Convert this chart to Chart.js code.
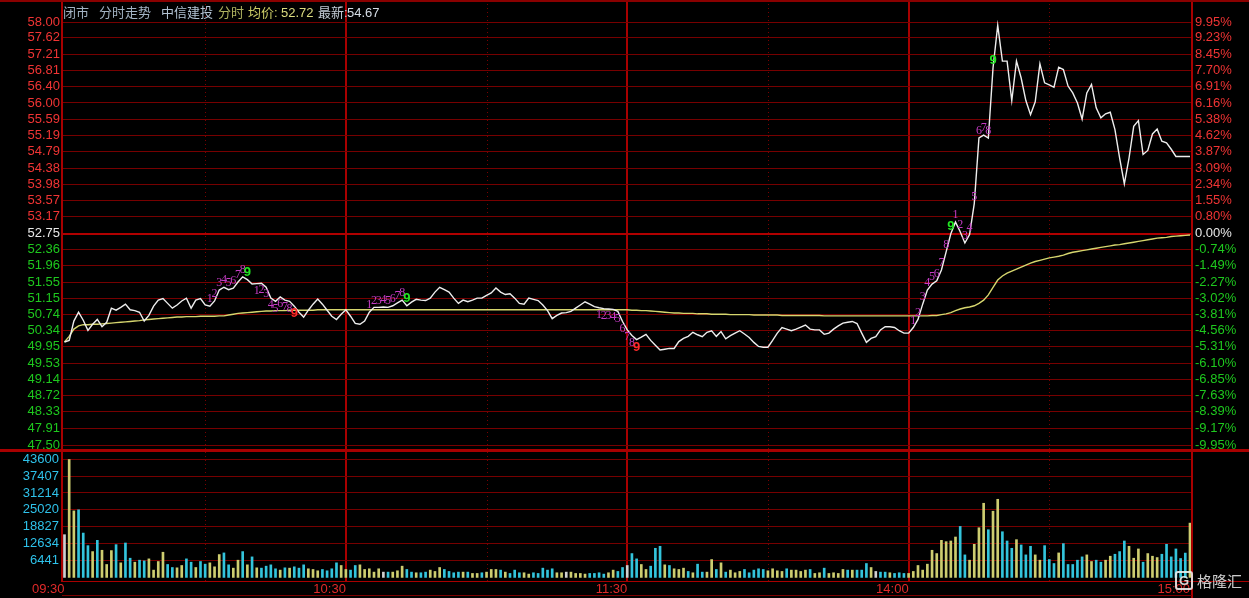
<!DOCTYPE html>
<html><head><meta charset="utf-8">
<script src="https://cdn.jsdelivr.net/npm/chart.js@4.4.1/dist/chart.umd.min.js"></script>
<style>
html,body{margin:0;padding:0;background:#000;width:1249px;height:598px;overflow:hidden;}
#wrap{position:relative;width:1249px;height:598px;background:#000;}
canvas{position:absolute;left:0;}
#cp{top:0;}
#cv{top:452px;}
.t{position:absolute;top:4px;font-size:13px;font-family:"Liberation Sans","Noto Sans CJK SC",sans-serif;line-height:17px;white-space:nowrap;}
#logoG{position:absolute;left:1175px;top:571px;width:14px;height:15px;border:2px solid rgba(235,235,235,0.9);border-radius:3px;color:rgba(235,235,235,0.9);font:bold 13px "Liberation Sans",sans-serif;line-height:15px;text-align:center;}
#logoT{position:absolute;left:1197px;top:570px;color:rgba(225,225,225,0.9);font:15px "Noto Sans CJK SC",sans-serif;line-height:22px;}
</style></head>
<body><div id="wrap">
<canvas id="cp" width="1249" height="452"></canvas>
<canvas id="cv" width="1249" height="146"></canvas>
<span class="t" style="left:63px;color:#a3b3c3">闭市</span>
<span class="t" style="left:99px;color:#a3b3c3">分时走势</span>
<span class="t" style="left:161px;color:#b3c3d3">中信建投</span>
<span class="t" style="left:218px;color:#b0b460">分时</span>
<span class="t" style="left:248px;color:#cccc66">均价:</span>
<span class="t" style="left:281px;color:#dcdc80">52.72</span>
<span class="t" style="left:318px;color:#c4ccd6">最新:</span>
<span class="t" style="left:347px;color:#d6dde6">54.67</span>
<div id="logoG">G</div>
<div id="logoT">格隆汇</div>
</div>
<script>
// ---------------- DATA ----------------
const prevClose = 52.75;
const timeTicks = [0, 60, 120, 180, 240];          // minute index
const timeLabels = ['09:30', '10:30', '11:30', '14:00', '15:00'];
const dottedMinutes = [30, 90, 150, 210];

const priceLabels = ['58.00','57.62','57.21','56.81','56.40','56.00','55.59','55.19','54.79','54.38','53.98','53.57','53.17','52.75','52.36','51.96','51.55','51.15','50.74','50.34','49.95','49.53','49.14','48.72','48.33','47.91','47.50'];
const pctLabels = ['9.95%','9.23%','8.45%','7.70%','6.91%','6.16%','5.38%','4.62%','3.87%','3.09%','2.34%','1.55%','0.80%','0.00%','-0.74%','-1.49%','-2.27%','-3.02%','-3.81%','-4.56%','-5.31%','-6.10%','-6.85%','-7.63%','-8.39%','-9.17%','-9.95%'];
const volLabels = ['43600','37407','31214','25020','18827','12634','6441'];

const price = [
50.06,50.10,50.58,50.80,50.60,50.35,50.50,50.62,50.44,50.55,
50.90,50.85,50.92,51.00,50.86,50.84,50.80,50.58,50.72,50.95,
51.10,51.14,51.02,50.90,50.98,51.08,51.15,50.90,51.10,51.14,
50.98,50.95,51.08,51.35,51.42,51.36,51.40,51.55,51.68,51.61,
51.50,51.51,51.52,51.42,51.15,51.07,51.18,51.10,51.07,50.95,
50.80,50.68,50.85,51.00,51.13,51.00,50.85,50.70,50.62,50.75,
50.86,50.70,50.52,50.50,50.58,50.80,50.92,50.92,50.93,50.92,
50.96,51.03,51.10,50.96,51.05,51.12,51.10,51.09,51.15,51.30,
51.42,51.36,51.30,51.15,51.02,51.10,51.06,51.10,51.15,51.15,
51.22,51.28,51.40,51.30,51.24,51.26,51.15,51.02,51.00,51.15,
51.12,51.09,50.98,50.84,50.64,50.72,50.78,50.79,50.82,50.90,
50.98,51.06,51.00,50.94,50.91,50.89,50.88,50.87,50.82,50.57,
50.36,50.22,50.12,50.18,50.25,50.10,49.98,49.86,49.88,49.90,
49.90,50.07,50.15,50.20,50.30,50.24,50.19,50.30,50.34,50.20,
50.32,50.14,50.22,50.28,50.34,50.26,50.17,50.05,49.95,49.93,
49.93,50.10,50.28,50.42,50.38,50.34,50.38,50.43,50.48,50.38,
50.36,50.36,50.25,50.28,50.38,50.46,50.53,50.55,50.57,50.52,
50.28,50.05,50.15,50.19,50.36,50.44,50.44,50.42,50.34,50.28,
50.28,50.42,50.62,51.00,51.35,51.50,51.58,51.85,52.30,52.75,
53.04,52.80,52.52,52.73,53.50,55.13,55.20,55.13,56.87,57.93,
57.04,57.04,56.06,57.04,56.62,56.06,55.71,56.03,56.97,56.50,
56.45,56.39,56.89,56.83,56.42,56.25,56.00,55.60,56.25,56.46,
55.88,55.63,55.73,55.77,55.34,54.63,53.99,54.63,55.42,55.56,
54.72,54.82,55.23,55.35,55.05,55.01,54.85,54.67,54.67,54.67,
54.67];

const avgPrice = [
50.06,50.20,50.38,50.46,50.49,50.49,50.50,50.50,50.51,50.52,
50.53,50.54,50.55,50.56,50.57,50.58,50.59,50.61,50.62,50.63,
50.64,50.65,50.66,50.67,50.68,50.68,50.69,50.69,50.69,50.70,
50.70,50.70,50.70,50.71,50.71,50.73,50.75,50.77,50.78,50.79,
50.80,50.81,50.82,50.83,50.83,50.84,50.84,50.84,50.85,50.85,
50.85,50.85,50.85,50.85,50.86,50.86,50.86,50.86,50.86,50.86,
50.86,50.86,50.86,50.86,50.86,50.86,50.86,50.86,50.86,50.86,
50.86,50.86,50.86,50.86,50.86,50.86,50.86,50.86,50.86,50.86,
50.86,50.86,50.86,50.86,50.86,50.86,50.86,50.86,50.86,50.86,
50.86,50.86,50.86,50.86,50.86,50.86,50.86,50.86,50.86,50.86,
50.86,50.86,50.86,50.86,50.86,50.86,50.86,50.86,50.86,50.86,
50.86,50.86,50.86,50.86,50.86,50.86,50.86,50.86,50.86,50.86,
50.86,50.85,50.85,50.84,50.84,50.83,50.82,50.81,50.80,50.79,
50.78,50.78,50.77,50.77,50.77,50.76,50.76,50.76,50.75,50.75,
50.75,50.75,50.74,50.74,50.74,50.74,50.74,50.73,50.73,50.73,
50.73,50.73,50.73,50.72,50.72,50.72,50.72,50.72,50.72,50.72,
50.72,50.72,50.71,50.71,50.71,50.71,50.71,50.71,50.71,50.71,
50.71,50.71,50.71,50.71,50.71,50.71,50.71,50.71,50.71,50.71,
50.71,50.71,50.71,50.71,50.71,50.72,50.72,50.74,50.76,50.79,
50.84,50.88,50.91,50.93,50.96,51.02,51.10,51.23,51.42,51.60,
51.70,51.77,51.82,51.87,51.92,51.97,52.02,52.06,52.09,52.12,
52.15,52.17,52.19,52.22,52.26,52.29,52.31,52.33,52.35,52.37,
52.39,52.41,52.43,52.45,52.47,52.48,52.50,52.52,52.54,52.56,
52.58,52.60,52.62,52.64,52.65,52.66,52.68,52.69,52.70,52.71,
52.72];

const volume = [
15800,43600,24600,25000,16400,11750,9550,13710,10040,4780,
9920,12120,5390,12730,7100,5630,6370,6120,6860,2700,
5880,9310,4780,3670,3550,4410,6860,5630,3670,5880,
4900,5390,3920,8450,9060,4650,3430,6370,9550,4650,
7590,3550,3430,4160,4650,3190,2700,3550,3430,3920,
3430,4650,3190,2940,2450,2940,2450,3190,5390,4410,
2940,2700,4410,4650,2940,3190,1960,3190,1960,1960,
1960,2450,4160,2940,1960,1720,1720,1960,2700,2210,
3670,2940,2210,1720,1960,1960,1960,1470,1470,1720,
1960,2940,2940,2700,1960,1470,2700,1720,1720,1230,
1720,1470,3430,2700,3190,1720,1720,1960,1960,1470,
1470,1230,1470,1470,1720,1230,1720,2700,2210,3670,
4410,8820,6860,4780,2940,4160,10770,11510,4650,4410,
3190,2940,3430,2210,1720,4900,1960,1960,6610,2940,
5390,1960,2700,1720,2210,2940,1720,2700,3190,2940,
2450,3190,2450,2210,3190,2700,2700,2210,2700,2940,
1470,1720,3430,1470,1720,1470,2940,2700,2700,2700,
2700,5140,3670,2210,1960,1960,1720,1470,1720,1470,
1470,2210,4410,2700,4900,10040,8820,13710,13220,13470,
14940,18850,8330,6370,12240,18360,27420,17630,24480,28890,
16890,13470,10770,13960,12000,8330,11510,8330,6370,11750,
6610,5140,9060,12490,4780,4780,6370,7590,8330,5880,
6370,5630,6370,7840,8570,9550,13470,11510,7100,10530,
5630,8820,7840,7350,8570,12240,7590,10530,7000,9000,
20080];

// trade direction per minute: Y = up, C = down, W = flat
const volDir = [
'WYYCCCYCYY','YCYCCYCCYY','YYCCYYCCYC','CYYYCCYYCY','CYCCCCYCYC',
'CCYYYCCCCY','YCCYYYYYWC','YYYCCYCCYY','YCCCCYCYYC','YYYCYCCCYY',
'CCCCCYYWYY','YYCCCCYYCC','WCCYYCCCYC','YYYCYCCYYC','YCYYYCCCCC',
'YYYYCYYYYC','YYCYYYYCYC','CCYWCCYCCC','YYYYYYYYYY','YCCYYYYCYY',
'CCCYCCCYYC','CCYCCCCCYY','CCYYCCCYYY','CYYYCCCCCC','Y'].join('');

// TD sequential counts (first minute of each 1..9 run)
const tdUpStarts = [31, 65, 181, 190];
const tdDownStarts = [41, 114];

// ---------------- STYLE ----------------
const C_GRID = '#760000', C_LINE = '#a80000';
const C_RED = '#f03434', C_GREEN = '#1ec81e', C_WHITE = '#e8e8e8';
const volColors = {Y: '#cdcd70', C: '#33c4dc', W: '#d0d0d0'};
const FONT = '"Liberation Sans", Arial, sans-serif';
const X_MIN = -0.53, X_MAX = 240.43;
const P_MIN = 47.351, P_MAX = 58.559;
const V_MIN = -1323, V_MAX = 46373;

const priceTickVals = priceLabels.map(Number).reverse();
const priceLabelsAsc = priceLabels.slice().reverse();
const pctLabelsAsc = pctLabels.slice().reverse();
const volTickVals = volLabels.map(Number).reverse();
const volLabelsAsc = volLabels.slice().reverse();

function tickColorFor(v) { return v > prevClose + 1e-9 ? C_RED : (v < prevClose - 1e-9 ? C_GREEN : C_WHITE); }

const vertGrid = {
  color: c => (c.index === 0 || c.index === timeTicks.length - 1) ? 'rgba(0,0,0,0)' : C_LINE,
  lineWidth: 2, drawTicks: false, offset: false
};

const dottedPlugin = {
  id: 'dotted',
  beforeDatasetsDraw(chart) {
    const {ctx, chartArea: a, scales: {x}} = chart;
    ctx.save();
    ctx.strokeStyle = '#7a0000'; ctx.lineWidth = 1; ctx.setLineDash([1, 3]);
    dottedMinutes.forEach(m => {
      const px = Math.round(x.getPixelForValue(m)) + 0.5;
      ctx.beginPath(); ctx.moveTo(px, a.top); ctx.lineTo(px, a.bottom); ctx.stroke();
    });
    ctx.restore();
  }
};

const priceFrame = {
  id: 'pframe',
  afterDraw(chart) {
    const {ctx} = chart;
    ctx.save();
    ctx.fillStyle = '#8a0000'; ctx.fillRect(0, 0, 1249, 2);
    ctx.fillStyle = C_LINE; ctx.fillRect(0, 449, 1249, 3);
    ctx.restore();
  }
};

const volFrame = {
  id: 'vframe',
  afterDraw(chart) {
    const {ctx, chartArea: a} = chart;
    ctx.save();
    ctx.fillStyle = C_LINE;
    ctx.fillRect(a.right - 1, 0, 2, 146);
    ctx.fillRect(a.left, a.bottom, 1249 - a.left, 1);
    ctx.fillStyle = '#7a0000';
    ctx.fillRect(a.left, 143, a.right - a.left, 1);
    ctx.restore();
  }
};

const tdPlugin = {
  id: 'td',
  afterDatasetsDraw(chart) {
    const {ctx, scales: {x, y}} = chart;
    ctx.save(); ctx.textAlign = 'center';
    const draw = (start, up) => {
      for (let k = 1; k <= 9; k++) {
        const m = start + k - 1;
        const px = x.getPixelForValue(m), py = y.getPixelForValue(price[m]);
        if (k < 9) { ctx.font = '12px "Liberation Serif", serif'; ctx.fillStyle = '#c43cc4'; }
        else { ctx.font = 'bold 13px ' + FONT; ctx.fillStyle = up ? '#22e622' : '#ff2a2a'; }
        ctx.textBaseline = up ? 'bottom' : 'top';
        ctx.fillText(String(k), px, up ? py - 1 : py + 1);
      }
    };
    tdUpStarts.forEach(s => draw(s, true));
    tdDownStarts.forEach(s => draw(s, false));
    ctx.restore();
  }
};

const common = {
  responsive: false, animation: false, devicePixelRatio: 1, events: [],
  plugins: {legend: {display: false}, tooltip: {enabled: false}, title: {display: false}}
};

// ---------------- PRICE CHART ----------------
new Chart(document.getElementById('cp'), {
  type: 'line',
  data: {datasets: [
    {data: price.map((v, i) => ({x: i, y: v})), borderColor: '#eeeeee', borderWidth: 1.4, pointRadius: 0, tension: 0, order: 0},
    {data: avgPrice.map((v, i) => ({x: i, y: v})), borderColor: '#d6d66e', borderWidth: 1.4, pointRadius: 0, tension: 0, order: 1}
  ]},
  options: Object.assign({}, common, {
    layout: {padding: 0},
    scales: {
      x: {type: 'linear', min: X_MIN, max: X_MAX, offset: false,
          afterBuildTicks: s => { s.ticks = timeTicks.map(v => ({value: v})); },
          ticks: {display: false}, grid: vertGrid, border: {display: false},
          afterFit: s => { s.height = 1; s.paddingLeft = 0; s.paddingRight = 0; }},
      y: {position: 'left', min: P_MIN, max: P_MAX,
          afterBuildTicks: s => { s.ticks = priceTickVals.map(v => ({value: v})); },
          ticks: {autoSkip: false, padding: 2, font: {family: FONT, size: 13},
                  color: c => tickColorFor(c.tick.value), callback: (v, i) => priceLabelsAsc[i]},
          grid: {color: c => (c.tick && Math.abs(c.tick.value - prevClose) < 1e-9) ? '#b00000' : C_GRID,
                 lineWidth: c => (c.tick && Math.abs(c.tick.value - prevClose) < 1e-9) ? 2 : 1, drawTicks: false},
          border: {color: C_LINE, width: 2},
          afterFit: s => { s.width = 62; s.paddingTop = 0; s.paddingBottom = 0; }},
      yr: {position: 'right', min: P_MIN, max: P_MAX,
          afterBuildTicks: s => { s.ticks = priceTickVals.map(v => ({value: v})); },
          ticks: {autoSkip: false, padding: 3, font: {family: FONT, size: 13},
                  color: c => tickColorFor(c.tick.value), callback: (v, i) => pctLabelsAsc[i]},
          grid: {display: false, drawTicks: false},
          border: {color: C_LINE, width: 2},
          afterFit: s => { s.width = 57; s.paddingTop = 0; s.paddingBottom = 0; }}
    }
  }),
  plugins: [dottedPlugin, priceFrame, tdPlugin]
});

// ---------------- VOLUME CHART ----------------
new Chart(document.getElementById('cv'), {
  type: 'bar',
  data: {datasets: [{
    data: volume.map((v, i) => ({x: i, y: v})),
    backgroundColor: volDir.split('').map(c => volColors[c]),
    barThickness: 2, borderWidth: 0
  }]},
  options: Object.assign({}, common, {
    layout: {padding: {right: 57}},
    scales: {
      x: {type: 'linear', min: X_MIN, max: X_MAX, offset: false,
          afterBuildTicks: s => { s.ticks = timeTicks.map(v => ({value: v})); },
          ticks: {autoSkip: false, maxRotation: 0, minRotation: 0, align: 'end', padding: 1,
                  color: '#e02a2a', font: {family: FONT, size: 13}, callback: (v, i) => timeLabels[i]},
          grid: vertGrid, border: {display: false},
          afterFit: s => { s.height = 17; s.paddingLeft = 0; s.paddingRight = 0; }},
      y: {position: 'left', min: V_MIN, max: V_MAX, beginAtZero: false,
          afterBuildTicks: s => { s.ticks = volTickVals.map(v => ({value: v})); },
          ticks: {autoSkip: false, padding: 3, font: {family: FONT, size: 13}, color: '#2ec2ea',
                  callback: (v, i) => volLabelsAsc[i]},
          grid: {color: C_GRID, drawTicks: false},
          border: {color: C_LINE, width: 2},
          afterFit: s => { s.width = 62; s.paddingTop = 0; s.paddingBottom = 0; }}
    }
  }),
  plugins: [dottedPlugin, volFrame]
});
</script>
</body></html>
